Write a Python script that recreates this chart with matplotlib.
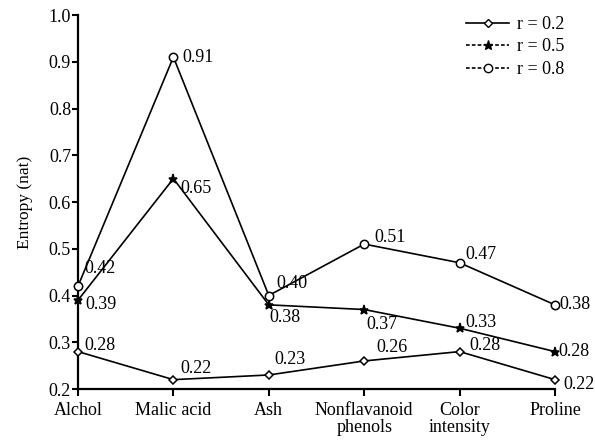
import matplotlib
matplotlib.use("Agg")
import matplotlib.pyplot as plt
from matplotlib.lines import Line2D

plt.rcParams['font.family'] = ['Liberation Serif', 'DejaVu Serif']

categories = ["Alchol", "Malic acid", "Ash", "Nonflavanoid\nphenols", "Color\nintensity", "Proline"]
r02 = [0.28, 0.22, 0.23, 0.26, 0.28, 0.22]
r05 = [0.39, 0.65, 0.38, 0.37, 0.33, 0.28]
r08 = [0.42, 0.91, 0.40, 0.51, 0.47, 0.38]
series_labels = ["r = 0.2", "r = 0.5", "r = 0.8"]
yticks = [0.2, 0.3, 0.4, 0.5, 0.6, 0.7, 0.8, 0.9, 1.0]

# label offsets in pixels (right, up)
off02 = [(6, 6), (7, 11), (6, 15), (12, 13), (10, 6), (8, -5)]
off05 = [(7, -4), (7, -10), (1, -13), (2, -15), (6, 6), (3, 0)]
off08 = [(6, 18), (9, 0), (8, 12), (10, 7), (6, 8), (4, 0)]

fig = plt.figure(figsize=(5.95, 4.44), dpi=100)
ax = fig.add_axes([78/595, 1-389/444, (555-78)/595, (389-15)/444])

x = list(range(len(categories)))
styles = [
    (r02, 'D', 4.5, 'white', off02),
    (r05, '*', 6.5, 'black', off05),
    (r08, 'o', 6.0, 'white', off08),
]
for vals, mk, ms, mfc, offs in styles:
    ax.plot(x, vals, color='black', lw=1.2, marker=mk, ms=ms, mfc=mfc,
            mec='black', mew=1.1, clip_on=False, zorder=3)
    for xi, v, (dx, dy) in zip(x, vals, offs):
        ax.annotate(f"{v:.2f}", (xi, v), xytext=(dx*0.72, dy*0.72),
                    textcoords='offset points', ha='left', va='center',
                    fontsize=13, annotation_clip=False)

ax.set_xlim(0, 5)
ax.set_ylim(0.2, 1.0)
ax.set_yticks(yticks)
ax.set_yticklabels([f"{t:.1f}" for t in yticks])
ax.set_xticks(x)
ax.set_xticklabels(categories, fontsize=13, linespacing=1.05)
ax.tick_params(axis='y', labelsize=13, length=4, width=1.5, pad=1)
ax.tick_params(axis='x', length=5, width=1.5, pad=4)
for s in ['top', 'right']:
    ax.spines[s].set_visible(False)
for s in ['left', 'bottom']:
    ax.spines[s].set_linewidth(1.6)
ax.set_ylabel("Entropy (nat)", fontsize=12.5)
ax.yaxis.set_label_coords(-0.094, 0.5)

handles = [
    Line2D([], [], color='black', lw=1.2, ls='-', marker='D', ms=4.5, mfc='white', mec='black'),
    Line2D([], [], color='black', lw=1.2, ls=(0, (2.2, 1.3)), marker='*', ms=6.5, mfc='black', mec='black'),
    Line2D([], [], color='black', lw=1.2, ls=(0, (2.2, 1.3)), marker='o', ms=6.0, mfc='white', mec='black'),
]
fig.legend(handles, series_labels, loc='upper left', bbox_to_anchor=(466/595, 1-16/444),
           frameon=False, fontsize=13, handlelength=2.4, handletextpad=0.4,
           labelspacing=0.3, borderpad=0, borderaxespad=0)

fig.savefig("out.png", dpi=100)
